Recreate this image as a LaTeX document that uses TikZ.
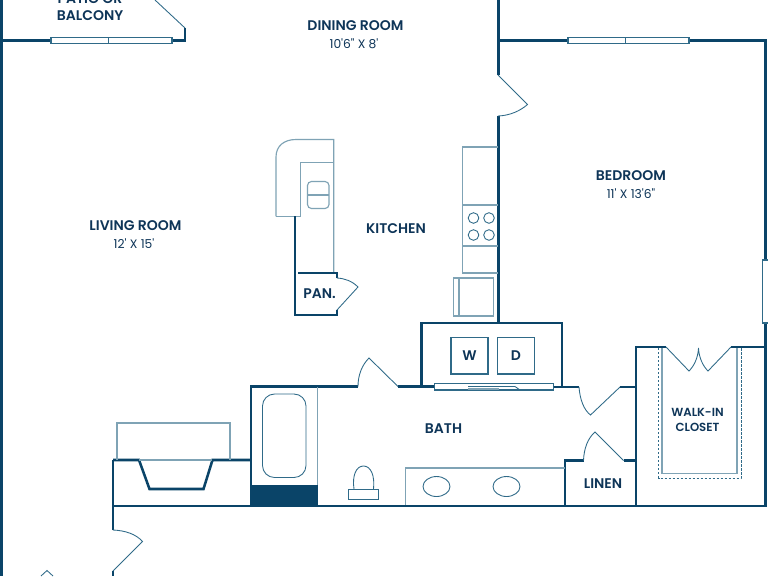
\documentclass[tikz,border=0pt]{standalone}
\usepackage{fontspec}
\setmainfont{Poppins}[UprightFont=* SemiBold,BoldFont=* Bold]
\newfontfamily\dimfont{Poppins}
\definecolor{wallc}{HTML}{0A4468}
\definecolor{thinc}{HTML}{2F6A88}
\definecolor{lightc}{HTML}{7FA3B5}
\definecolor{textc}{HTML}{0E3558}
\tikzset{
 wall/.style={draw=wallc,line width=1.9pt,line cap=butt,line join=miter},
 outer/.style={draw=wallc,line width=2pt},
 thin/.style={draw=thinc,line width=.65pt},
 pale/.style={draw=lightc,line width=.85pt},
 win/.style={draw=thinc,line width=.8pt,fill=white},
 lab/.style={text=textc,font=\fontsize{10.5}{11.5}\selectfont,align=center,inner sep=0pt},
 dim/.style={text=textc,font=\dimfont\fontsize{9.2}{10}\selectfont,align=center,inner sep=0pt}
}
\begin{document}
\begin{tikzpicture}[x=0.75pt,y=-0.75pt]
\useasboundingbox (0,0) rectangle (768,576);
\fill[white] (0,0) rectangle (768,576);
% walls
\draw[outer,line width=2.4pt] (1,0) -- (1,576);
\draw[wall] (0,40.5) -- (51,40.5);
\draw[wall] (172,40.5) -- (185,40.5) -- (185,28);
\draw[thin] (185,28) -- (155,0);
\draw[wall] (498.5,0) -- (498.5,75);
\draw[wall] (498.5,116) -- (498.5,323);
\draw[wall] (499,40.5) -- (568,40.5);
\draw[wall] (689,40.5) -- (765.5,40.5) -- (765.5,260);
\draw[wall] (765.5,323) -- (765.5,506.5);
\draw[thin] (498,75) -- (527.5,104.5) .. controls (520,111) and (510,115.5) .. (498,116);
% windows
\draw[win] (51,37.5) rectangle (172,43.5);
\draw[thin] (108,37.5) -- (108,43.5);
\draw[win] (568,37.5) rectangle (689,43.5);
\draw[thin] (625.5,37.5) -- (625.5,43.5);
\draw[win] (762.5,260) rectangle (770,323);
% closet
\draw[wall] (666,347) -- (636,347) -- (636,506);
\draw[wall] (731,347) -- (765.5,347);
\draw[thin] (666,347) -- (689,371) .. controls (694,366) and (698,358) .. (698.5,348) .. controls (699,358) and (703,366) .. (708,371) -- (731,347);
\draw[pale] (662,348) -- (662,473.5) -- (737,473.5) -- (737,348);
\draw[thin,dash pattern=on 1.6pt off 1.4pt] (658.5,348) -- (658.5,478) -- (741,478) -- (741,348);
% washer dryer
\draw[wall] (421.5,387) -- (421.5,322.8) -- (562,322.8) -- (562,387);
\draw[thin,line width=.8pt] (451,337.5) rectangle (488,374);
\draw[thin,line width=.8pt] (497.5,337.5) rectangle (534.5,374);
% bath upper wall
\draw[wall] (251,506) -- (251,386.5) -- (358,386.5);
\draw[thin] (358,386.5) .. controls (358,375) and (362,365) .. (369,358) -- (398,386.5);
\draw[wall] (398,386.5) -- (434,386.5);
\draw[win] (434.5,383.5) rectangle (553.5,390);
\draw[thin] (468,386.5) -- (515,386.5) -- (520,390);
\draw[pale] (468,389) -- (499,389);
\draw[wall] (553.5,386.8) -- (579,386.8);
\draw[thin] (579,387) .. controls (580,400) and (584,410) .. (590.5,415) -- (620,387);
\draw[wall] (620,387) -- (636,387);
% linen
\draw[wall] (565,506) -- (565,460.5) -- (583.5,460.5);
\draw[thin] (583.5,460.5) .. controls (584,448) and (588,438) .. (595,432) -- (623.5,460.5);
\draw[wall] (623.5,460.5) -- (636,460.5);
% vanity
\draw[pale] (565,468) -- (405.5,468) -- (405.5,506);
\draw[thin] (436.5,486.5) ellipse [x radius=13.5,y radius=10];
\draw[thin] (506.5,486.5) ellipse [x radius=13.5,y radius=10];
% tub
\draw[pale] (317.5,387) -- (317.5,506);
\fill[wallc] (251,485) rectangle (317.5,506);
\draw[thin,rounded corners=9pt] (262.5,394) rectangle (306,477.5);
% toilet
\draw[thin] (348.5,489) rectangle (378.5,499.5);
\draw[thin] (354,489) .. controls (352,476) and (356,466) .. (363.5,466) .. controls (371,466) and (375,476) .. (373.5,489);
% bottom wall
\draw[wall] (113,506) -- (766,506);
\draw[wall] (113,460) -- (113,530);
\draw[wall] (113,571) -- (113,576);
\draw[thin] (113,530) .. controls (125,530.5) and (136,534) .. (142.5,541.5) -- (113,571);
\draw[thin] (41,576) -- (47,570.5) -- (53,576);
% fireplace
\draw[wall] (113,460) -- (139,460) -- (149.5,489) -- (203.5,489) -- (212.5,460) -- (251,460);
\draw[draw=white,line width=1.9pt] (140,460) -- (211.5,460);
\draw[pale] (139,460) -- (212,460);
\draw[pale] (117,460) -- (117,423) -- (230,423) -- (230,460);
% island
\draw[pale] (276,216.3) -- (276,157) .. controls (276,146) and (284,139.5) .. (296,139.5) -- (333.7,139.5) -- (333.7,272);
\draw[pale] (333.7,162.7) -- (300.7,162.7) -- (300.7,216.3) -- (276,216.3);
\draw[pale,rounded corners=3pt] (307.5,181.5) rectangle (329,208.5);
\draw[pale] (307.5,195) -- (329,195);
% pantry
\draw[wall] (295,216.3) -- (295,315) -- (337,315) -- (337,310);
\draw[wall] (298,273) -- (337,273) -- (337,278);
\draw[thin] (337,278) .. controls (345,278.5) and (352,281) .. (358,287) -- (337,310);
% counter
\draw[pale] (498,147) -- (462.5,147) -- (462.5,273) -- (498,273);
\draw[pale] (462.5,205) -- (498,205);
\draw[pale] (462.5,246) -- (498,246);
\foreach \cx/\cy in {473.5/218,489/218,473.5/235,489/235}
  \draw[thin] (\cx,\cy) circle [radius=5.3];
\draw[pale] (453.5,278) rectangle (493.5,316);
\draw[pale] (459,278) -- (459,316);
% labels
\node[lab] (patio) at (90,7) {PATIO OR\\[1pt]BALCONY};
\node[lab] (dining) at (355.5,26) {DINING ROOM};
\node[dim] (diningd) at (354,43.5) {10'6" X 8'};
\node[lab] (bedroom) at (631,176) {BEDROOM};
\node[dim] (bedroomd) at (631,193.5) {11' X 13'6"};
\node[lab] (living) at (135.5,226) {LIVING ROOM};
\node[dim] (livingd) at (134,243.5) {12' X 15'};
\node[lab] (kitchen) at (396,229) {KITCHEN};
\node[lab] (pan) at (319.5,293.5) {PAN.};
\node[lab] (w) at (469.5,356) {W};
\node[lab] (d) at (516,356) {D};
\node[lab] (bath) at (443.5,429) {BATH};
\node[lab,font=\fontsize{8.8}{10.8}\selectfont] (closet) at (697.5,420) {WALK-IN\\[1pt]CLOSET};
\node[lab] (linen) at (603,484) {LINEN};
\end{tikzpicture}
\end{document}
